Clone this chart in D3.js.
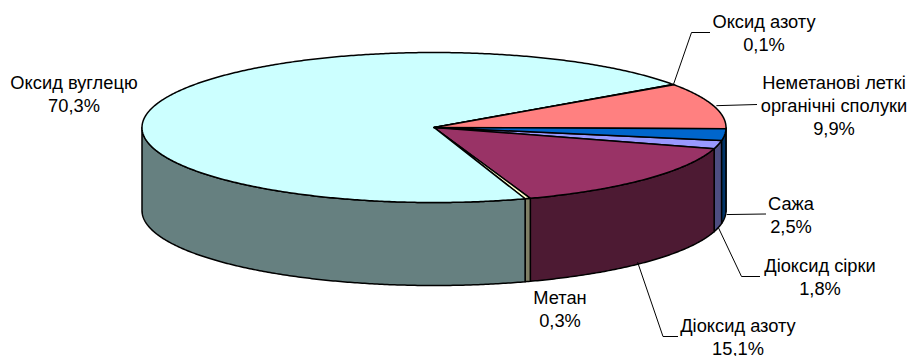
<!DOCTYPE html>
<html>
<head>
<meta charset="utf-8">
<script src="https://cdn.jsdelivr.net/npm/d3@7"></script>
<style>
  html, body { margin: 0; padding: 0; background: #fff; }
  svg { display: block; }
  text { font-family: "Liberation Sans", Arial, sans-serif; font-size: 18.3px; fill: #000; }
</style>
</head>
<body>
<svg id="chart" width="909" height="356"></svg>
<script>
// Emission components, in drawing order (clockwise)
const categories = ["Діоксид сірки", "Діоксид азоту", "Метан", "Оксид вуглецю", "Оксид азоту", "Неметанові леткі органічні сполуки", "Сажа"];
const values = [1.8, 15.1, 0.3, 70.3, 0.1, 9.9, 2.5];
const valueLabels = ["1,8%", "15,1%", "0,3%", "70,3%", "0,1%", "9,9%", "2,5%"];
const nameLines = [["Діоксид сірки"], ["Діоксид азоту"], ["Метан"], ["Оксид вуглецю"], ["Оксид азоту"], ["Неметанові леткі", "органічні сполуки"], ["Сажа"]];

const topColors  = ["#9999FF", "#993366", "#FFFFCC", "#CCFFFF", "#660066", "#FF8080", "#0066CC"];
const sideColors = ["#4D4D80", "#4D1A33", "#808066", "#668080", "#330033", "#804040", "#003366"];

// Ellipse geometry of the tilted pie
const cx = 434, cy = 127.5, rx = 292, ry = 75, depth = 83;
const deg = Math.PI / 180;

// Label layout: text centre, first baseline, and leader elbow points
const labelLayout = [
  { x: 820, y: 271.5, leader: [[741.5, 276.5], [760, 276.5]], fromSide: true },
  { x: 738, y: 331.5, leader: [[663, 336.5], [678, 336.5]], fromSide: true, dx: -8 },
  { x: 560, y: 304,   leader: null },
  { x: 74,  y: 89,    leader: null },
  { x: 764, y: 27.5,  leader: [[691.5, 32.5], [710, 32.5]], fromSide: false },
  { x: 834, y: 89,    leader: [[757, 104.5]], fromSide: false, dx: 3 },
  { x: 791, y: 210,   leader: [[766, 214]], fromSide: true, dy: -3, dx: 2 }
];
const lineGap = 23;

const svg = d3.select("#chart");

const pie = d3.pie().sort(null).value(d => d).startAngle(99.9 * deg).endAngle(99.9 * deg + 2 * Math.PI);
const arcs = pie(values);

const px = t => cx + rx * Math.sin(t);
const py = t => cy - ry * Math.cos(t);

// Points along the ellipse rim between two angles
function rim(a0, a1, dz) {
  const n = Math.max(2, Math.ceil(Math.abs(a1 - a0) / (0.5 * deg)));
  return d3.range(n + 1).map(i => {
    const t = a0 + (a1 - a0) * i / n;
    return [px(t), py(t) + dz];
  });
}
const line = d3.line();

// Side walls: only the front half (90°..270°) is visible
const front0 = 90 * deg, front1 = 270 * deg;
const sides = svg.append("g");
arcs.forEach((a, i) => {
  // bring the slice into a range that overlaps the front half
  let s = a.startAngle, e = a.endAngle;
  while (s >= 2 * Math.PI) { s -= 2 * Math.PI; e -= 2 * Math.PI; }
  const lo = Math.max(s, front0), hi = Math.min(e, front1);
  if (hi <= lo) return;
  const pts = rim(lo, hi, 0).concat(rim(hi, lo, depth));
  sides.append("path")
    .attr("d", line(pts) + "Z")
    .attr("fill", sideColors[i])
    .attr("stroke", "#000")
    .attr("stroke-width", 1.5)
    .attr("stroke-linejoin", "round");
});

// Top faces
const tops = svg.append("g");
arcs.forEach((a, i) => {
  const pts = [[cx, cy]].concat(rim(a.startAngle, a.endAngle, 0));
  tops.append("path")
    .attr("d", line(pts) + "Z")
    .attr("fill", topColors[i])
    .attr("stroke", "#000")
    .attr("stroke-width", 1.5)
    .attr("stroke-linejoin", "round");
});

// Labels and leader lines
const labels = svg.append("g");
arcs.forEach((a, i) => {
  const L = labelLayout[i];
  if (L.leader) {
    const m = (a.startAngle + a.endAngle) / 2;
    const start = [px(m) + (L.dx || 0), py(m) + (L.fromSide ? depth + (L.dy || 0) : 0)];
    labels.append("path")
      .attr("d", line([start].concat(L.leader)))
      .attr("fill", "none")
      .attr("stroke", "#000")
      .attr("stroke-width", 1);
  }
  const lines = nameLines[i].concat([valueLabels[i]]);
  const t = labels.append("text").attr("text-anchor", "middle");
  lines.forEach((s, k) => {
    t.append("tspan").attr("x", L.x).attr("y", L.y + k * lineGap).text(s);
  });
});
</script>
</body>
</html>
